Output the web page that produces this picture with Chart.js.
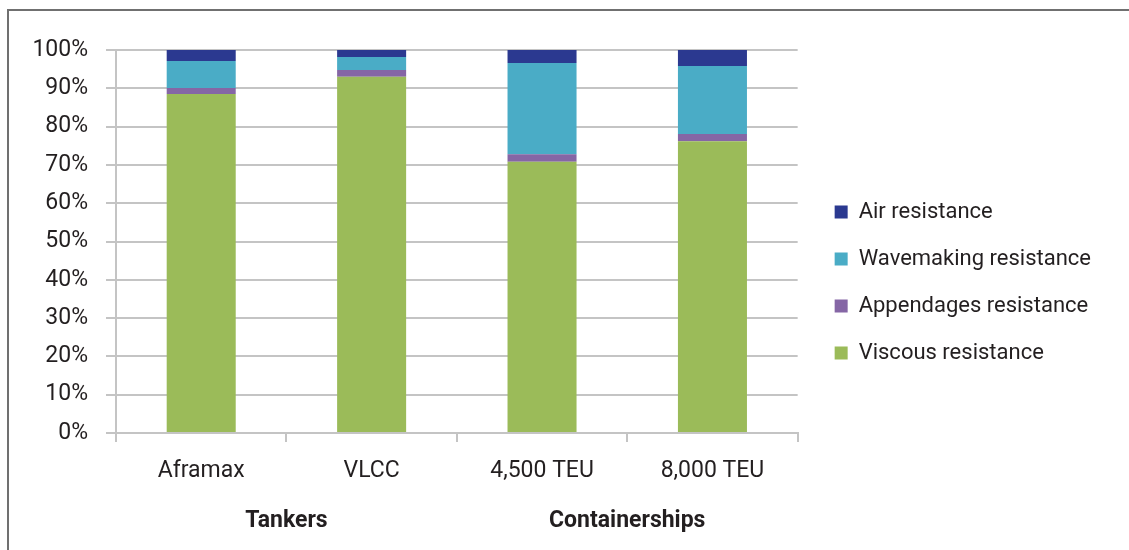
<!DOCTYPE html>
<html lang="en">
<head>
    <meta charset="UTF-8">
    <title>Resistance breakdown by ship type</title>
    <script src="https://cdn.jsdelivr.net/npm/chart.js"></script>
    <style>
        * { margin: 0; padding: 0; box-sizing: border-box; }
        body { background: #fff; width: 1129px; height: 550px; overflow: hidden; position: relative; }
        .frame {
            position: absolute;
            left: 7px;
            top: 9px;
            width: 1122px;
            height: 541px;
            border-left: 2px solid #707070;
            border-top: 2px solid #707070;
        }
    </style>
</head>
<body>
    <div class="frame">
        <canvas id="chart" width="1120" height="539"></canvas>
    </div>

    <script>
        // ship types on the x axis
        const categories = ['Aframax', 'VLCC', '4,500 TEU', '8,000 TEU'];
        // group labels under the categories (index of first and last category)
        const groupNames = ['Tankers', 'Containerships'];
        const groupSpans = [[0, 1], [2, 3]];

        // share of total resistance, %
        const viscous    = [88.5, 93.0, 70.8, 76.2];
        const appendages = [1.6, 1.8, 2.0, 1.9];
        const wavemaking = [7.0, 3.4, 23.8, 17.7];
        const air        = [2.9, 1.8, 3.4, 4.2];

        const yTicks = [0, 10, 20, 30, 40, 50, 60, 70, 80, 90, 100];

        const textColor = '#231f20';
        const gridColor = '#c4c4c4';
        const fontFamily = 'Roboto, "Open Sans", sans-serif';

        const groupLabels = {
            id: 'groupLabels',
            afterDraw(chart) {
                const ctx = chart.ctx;
                const x = chart.scales.x;
                ctx.save();
                ctx.font = 'bold 23px ' + fontFamily;
                ctx.fillStyle = textColor;
                ctx.textAlign = 'center';
                ctx.textBaseline = 'alphabetic';
                groupNames.forEach((name, i) => {
                    const a = x.getPixelForValue(groupSpans[i][0]);
                    const b = x.getPixelForValue(groupSpans[i][1]);
                    ctx.fillText(name, (a + b) / 2, 516);
                });
                ctx.restore();
            }
        };

        new Chart(document.getElementById('chart'), {
            type: 'bar',
            data: {
                labels: categories,
                datasets: [
                    { label: 'Viscous resistance', data: viscous, backgroundColor: '#9bbb59' },
                    { label: 'Appendages resistance', data: appendages, backgroundColor: '#8566a5' },
                    { label: 'Wavemaking resistance', data: wavemaking, backgroundColor: '#4aacc6' },
                    { label: 'Air resistance', data: air, backgroundColor: '#2b3990' }
                ]
            },
            options: {
                responsive: false,
                animation: false,
                layout: { padding: { top: 39, bottom: 35, left: 0, right: 28 } },
                datasets: { bar: { categoryPercentage: 1, barPercentage: 0.405 } },
                plugins: {
                    tooltip: { enabled: false },
                    legend: {
                        position: 'right',
                        reverse: true,
                        align: 'center',
                        maxWidth: 400,
                        labels: {
                            boxWidth: 13,
                            boxHeight: 13,
                            padding: 25,
                            color: textColor,
                            font: { family: fontFamily, size: 22 }
                        }
                    }
                },
                scales: {
                    x: {
                        stacked: true,
                        afterFit(s) { s.height = 82; },
                        grid: {
                            drawOnChartArea: false,
                            drawTicks: true,
                            tickLength: 9,
                            color: gridColor,
                            lineWidth: 2
                        },
                        border: { color: gridColor, width: 2 },
                        ticks: {
                            color: textColor,
                            padding: 15,
                            maxRotation: 0,
                            font: { family: fontFamily, size: 23 }
                        }
                    },
                    y: {
                        stacked: true,
                        min: 0,
                        max: 100,
                        afterFit(s) { s.width = 107; },
                        afterBuildTicks(s) { s.ticks = yTicks.map(v => ({ value: v })); },
                        grid: { color: gridColor, lineWidth: 2, tickLength: 10 },
                        border: { color: gridColor, width: 2 },
                        ticks: {
                            color: textColor,
                            padding: 18,
                            font: { family: fontFamily, size: 23 },
                            callback: v => v + '%'
                        }
                    },
                    gap: {
                        type: 'linear',
                        position: 'right',
                        afterFit(s) { s.width = 12; },
                        grid: { display: false },
                        border: { display: false },
                        ticks: { display: false }
                    }
                }
            },
            plugins: [groupLabels]
        });
    </script>
</body>
</html>
